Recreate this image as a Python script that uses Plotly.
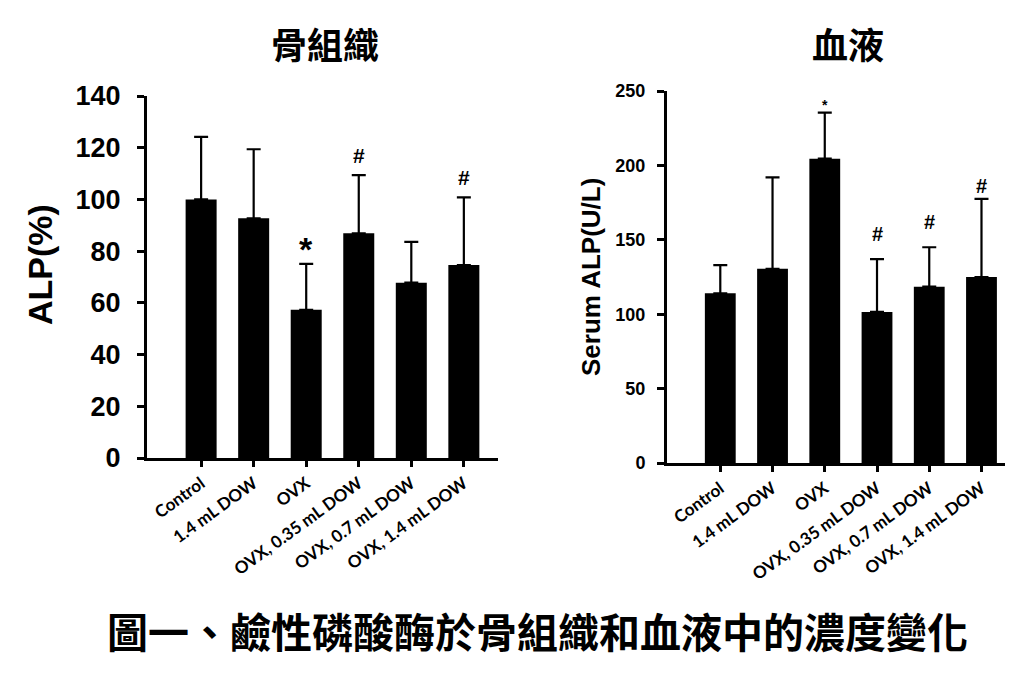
import plotly.graph_objects as go

groups = ["Control", "1.4 mL DOW", "OVX", "OVX, 0.35 mL DOW", "OVX, 0.7 mL DOW", "OVX, 1.4 mL DOW"]

bone_alp = [100, 92.7, 57.3, 86.9, 67.8, 74.6]
bone_err = [24.2, 26.7, 17.8, 22.5, 15.8, 26.2]
bone_marks = ["", "", "*", "#", "", "#"]

serum_alp = [114, 130.5, 204.5, 101.5, 118.5, 125]
serum_err = [19, 61.5, 31, 35.5, 26.5, 52.5]
serum_marks = ["", "", "*", "#", "#", "#"]

bone_ticks = [0, 20, 40, 60, 80, 100, 120, 140]
serum_ticks = [0, 50, 100, 150, 200, 250]

W, H = 1024, 679
def px(x): return x / W
def py(y): return (H - y) / H

LAT = "Liberation Sans"
fig = go.Figure()

fig.add_trace(go.Bar(
    x=groups, y=bone_alp, xaxis="x", yaxis="y",
    marker=dict(color="black", line=dict(width=0)),
    error_y=dict(type="data", array=bone_err, arrayminus=[0]*6, symmetric=False,
                 color="black", thickness=2.2, width=7),
    showlegend=False))
fig.add_trace(go.Bar(
    x=groups, y=serum_alp, xaxis="x2", yaxis="y2",
    marker=dict(color="black", line=dict(width=0)),
    error_y=dict(type="data", array=serum_err, arrayminus=[0]*6, symmetric=False,
                 color="black", thickness=2.2, width=7),
    showlegend=False))

xcommon = dict(type="category", showline=True, linecolor="black", linewidth=3,
               ticks="outside", ticklen=6, tickwidth=2.5, tickcolor="black",
               tickangle=-36, showgrid=False, zeroline=False, automargin=False,
               tickfont=dict(family="Lato", size=17, color="black", weight="bold"))
ycommon = dict(showline=True, linecolor="black", linewidth=3, ticks="outside", automargin=False,
               ticklen=7, tickwidth=2.5, tickcolor="black", showgrid=False, zeroline=False)

fig.update_layout(
    width=W, height=H, margin=dict(l=0, r=0, t=0, b=0, autoexpand=False),
    paper_bgcolor="white", plot_bgcolor="white", bargap=0.41,
    xaxis=dict(domain=[px(147), px(498)], range=[-1.03, 5.65], anchor="y", **xcommon),
    yaxis=dict(domain=[py(458), py(96)], range=[0, 140], tickvals=bone_ticks, anchor="x",
               ticklabelstandoff=11,
               tickfont=dict(family=LAT, size=27, color="black", weight="bold"), **ycommon),
    xaxis2=dict(domain=[px(667), px(1005)], range=[-1.02, 5.45], anchor="y2", **xcommon),
    yaxis2=dict(domain=[py(463), py(91)], range=[0, 250], tickvals=serum_ticks, anchor="x2",
                ticklabelstandoff=8,
                tickfont=dict(family=LAT, size=18, color="black", weight="bold"), **ycommon),
)

anns = []
for g, v, e, m in zip(groups, bone_alp, bone_err, bone_marks):
    if m:
        anns.append(dict(x=g, y=v + e, xref="x", yref="y", text=m, showarrow=False,
                         yanchor="bottom", yshift=(-6 if m == "*" else 6),
                         font=dict(family=LAT, size=(34 if m == "*" else 21), color="black",
                                   weight="bold")))
for g, v, e, m, s in zip(groups, serum_alp, serum_err, serum_marks, [0, 0, 0, 12, 12, 0]):
    if m:
        anns.append(dict(x=g, y=v + e, xref="x2", yref="y2", text=m, showarrow=False,
                         yanchor="bottom", yshift=(-2 if m == "*" else s),
                         font=dict(family=LAT, size=(14 if m == "*" else 20), color="black",
                                   weight="bold")))

cjk = "Noto Sans CJK TC"
anns += [
    dict(x=px(325), y=py(43), xref="paper", yref="paper", text="骨組織", showarrow=False,
         xanchor="center", yanchor="middle",
         font=dict(family=cjk, size=36, color="black", weight="bold")),
    dict(x=px(848), y=py(43), xref="paper", yref="paper", text="血液", showarrow=False,
         xanchor="center", yanchor="middle",
         font=dict(family=cjk, size=36, color="black", weight="bold")),
    dict(x=px(537), y=py(630), xref="paper", yref="paper",
         text="圖一、鹼性磷酸酶於骨組織和血液中的濃度變化", showarrow=False,
         xanchor="center", yanchor="middle",
         font=dict(family=cjk, size=41, color="black", weight="bold")),
    dict(x=px(40), y=py(265), xref="paper", yref="paper", text="ALP(%)", textangle=-90,
         xanchor="center", yanchor="middle",
         showarrow=False, font=dict(family=LAT, size=34, color="black", weight="bold")),
    dict(x=px(591), y=py(277), xref="paper", yref="paper", text="Serum ALP(U/L)", textangle=-90,
         xanchor="center", yanchor="middle",
         showarrow=False, font=dict(family=LAT, size=26, color="black", weight="bold")),
]
fig.update_layout(annotations=anns)

fig.write_html("out.html", config={"displayModeBar": False},
               post_script="document.body.style.margin='0';document.body.style.padding='0';")
